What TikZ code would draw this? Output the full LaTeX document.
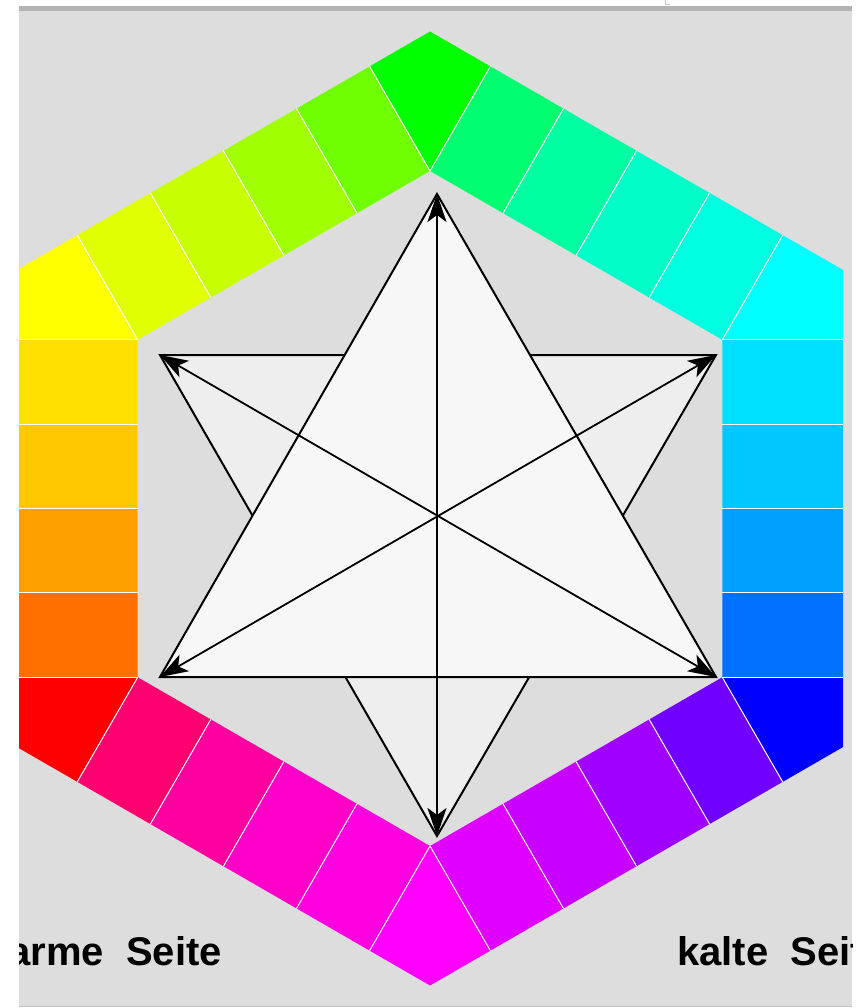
\documentclass[tikz,border=0pt]{standalone}
\usepackage{fontspec}
\newfontfamily\sidefont{Liberation Sans}
\usetikzlibrary{arrows.meta,calc}

\definecolor{panel}{HTML}{DDDDDD}
\definecolor{rim}{HTML}{B3B3B3}
\definecolor{upfill}{HTML}{F7F7F7}
\definecolor{downfill}{HTML}{EEEEEE}
% ring colours, clockwise from the green corner at the top:
% a corner, then the four blocks of the side that follows it
\definecolor{ring0}{HTML}{00FF00}
\definecolor{ring1}{HTML}{00FF70}
\definecolor{ring2}{HTML}{00FFA0}
\definecolor{ring3}{HTML}{00FFC8}
\definecolor{ring4}{HTML}{00FFE0}
\definecolor{ring5}{HTML}{00FFFF}
\definecolor{ring6}{HTML}{00E0FF}
\definecolor{ring7}{HTML}{00C8FF}
\definecolor{ring8}{HTML}{00A0FF}
\definecolor{ring9}{HTML}{0070FF}
\definecolor{ring10}{HTML}{0000FF}
\definecolor{ring11}{HTML}{7000FF}
\definecolor{ring12}{HTML}{A000FF}
\definecolor{ring13}{HTML}{C800FF}
\definecolor{ring14}{HTML}{E000FF}
\definecolor{ring15}{HTML}{FF00FF}
\definecolor{ring16}{HTML}{FF00E0}
\definecolor{ring17}{HTML}{FF00C8}
\definecolor{ring18}{HTML}{FF00A0}
\definecolor{ring19}{HTML}{FF0070}
\definecolor{ring20}{HTML}{FF0000}
\definecolor{ring21}{HTML}{FF7000}
\definecolor{ring22}{HTML}{FFA000}
\definecolor{ring23}{HTML}{FFC800}
\definecolor{ring24}{HTML}{FFE000}
\definecolor{ring25}{HTML}{FFFF00}
\definecolor{ring26}{HTML}{E0FF00}
\definecolor{ring27}{HTML}{C8FF00}
\definecolor{ring28}{HTML}{A0FF00}
\definecolor{ring29}{HTML}{70FF00}

\begin{document}
\begin{tikzpicture}[
  x=1pt, y=-1pt,
  seg/.style   = {draw=white, line width=1pt},
  star/.style  = {draw=black, line width=2pt, line join=miter},
  dbl/.style   = {line width=1.8pt,
                  {Stealth[length=28pt,width=19pt,inset=7pt]}-{Stealth[length=28pt,width=19pt,inset=7pt]}},
  side/.style  = {font=\sidefont\bfseries\fontsize{40}{48}\selectfont,
                  inner sep=0pt},
]

  \useasboundingbox (0,0) rectangle (861,1008);
  \fill[white] (0,0) rectangle (861,1008);
  \fill[rim] (19,6) rectangle (852,11);
  \draw[rim!70, line width=1pt] (665,0) -- (665,5) -- (670,5);
  \fill[panel] (19,11) rectangle (852,1006);
  \fill[panel!88!black] (19,1006) rectangle (852,1007);

  \begin{scope}
  \clip (19,11) rectangle (852,1006);

  % hexagon ring: outer and inner corners round the centre
  \coordinate (c) at (430,508.5);
  \foreach \i in {0,...,5}{
    \coordinate (O\i) at ($(c)+({-90+60*\i}:477)$);
    \coordinate (I\i) at ($(c)+({-90+60*\i}:337.5)$);
  }
  \foreach \i in {0,...,5}{
    \pgfmathtruncatemacro\ii{mod(\i+1,6)}
    \pgfmathsetmacro\nrm{-60+60*\i}
    \pgfmathtruncatemacro\n{5*\i}
    \foreach \j in {0,...,4}{
      \coordinate (a\i-\j) at ($(I\i)!\j/4!(I\ii)$);
      \coordinate (b\i-\j) at ($(a\i-\j)+(\nrm:120.8)$);
    }
    % corner piece
    \fill[ring\n] ($(I\i)+({\nrm-60}:120.8)$) -- (O\i) -- (b\i-0) -- (I\i) -- cycle;
    % four blocks along the side
    \foreach \j in {0,...,3}{
      \pgfmathtruncatemacro\jj{\j+1}
      \pgfmathtruncatemacro\m{5*\i+\j+1}
      \fill[ring\m] (a\i-\j) -- (b\i-\j) -- (b\i-\jj) -- (a\i-\jj) -- cycle;
    }
  }
  \foreach \i in {0,...,5}{
    \foreach \j in {0,...,4}{
      \draw[seg] (a\i-\j) -- (b\i-\j);
    }
  }

  % star of two triangles
  \coordinate (top) at (437,194);
  \coordinate (bot) at (437,836);
  \coordinate (ul) at (160,355);
  \coordinate (ur) at (716,355);
  \coordinate (ll) at (160,677);
  \coordinate (lr) at (716,677);
  \filldraw[star, fill=downfill] (ul) -- (ur) -- (bot) -- cycle;
  \filldraw[star, fill=upfill] (top) -- (ll) -- (lr) -- cycle;
  \draw[dbl] (bot) -- (top);
  \draw[dbl] (ul) -- (lr);
  \draw[dbl] (ur) -- (ll);

  \node[side, anchor=base east] (warm) at (222,965) {warme\ \ Seite};
  \node[side, anchor=base west] (cold) at (677,965) {kalte\ \ Seite};
  \end{scope}
\end{tikzpicture}
\end{document}
